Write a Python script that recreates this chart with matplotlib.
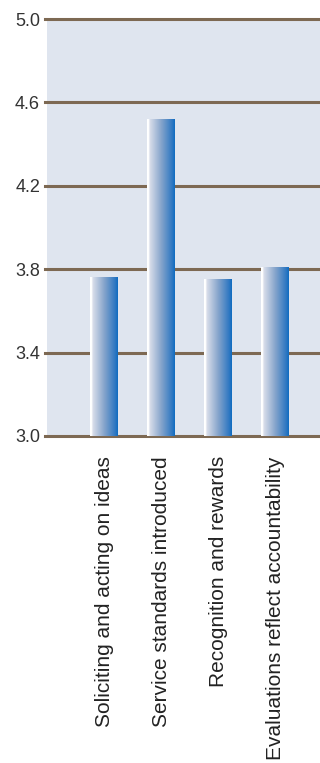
import numpy as np
import matplotlib
matplotlib.use("Agg")
import matplotlib.pyplot as plt
from matplotlib.colors import LinearSegmentedColormap

categories = ["Soliciting and acting on ideas", "Service standards introduced",
              "Recognition and rewards", "Evaluations reflect accountability"]
values = [3.76, 4.52, 3.75, 3.81]
yticks = [3.0, 3.4, 3.8, 4.2, 4.6, 5.0]
ytick_labels = ["3.0", "3.4", "3.8", "4.2", "4.6", "5.0"]

plt.rcParams['font.family'] = ['Liberation Sans', 'DejaVu Sans']

fig = plt.figure(figsize=(3.2, 7.63), dpi=100)
ax = fig.add_axes([47/320, 327/763, 273/320, 417/763])
ax.set_facecolor('#DFE5EF')

x = np.arange(len(categories))
bars = ax.bar(x, [v - 3.0 for v in values], bottom=3.0, width=0.49,
              color='none', edgecolor='none', zorder=3)

cmap = LinearSegmentedColormap.from_list('g', [
    (0.0, '#FFFFFF'), (0.06, '#FFFFFF'), (0.1, '#D9DEEA'),
    (0.5, '#88A6CC'), (0.9, '#2F78C2'), (1.0, '#0E6BC0')])
grad = np.linspace(0, 1, 256).reshape(1, -1)
for r in bars:
    ax.imshow(grad, cmap=cmap, aspect='auto', zorder=3,
              extent=[r.get_x(), r.get_x() + r.get_width(),
                      r.get_y(), r.get_y() + r.get_height()])

for yv in yticks:
    ax.axhline(yv, xmin=-2/273, xmax=1.0, color='#7D6953', lw=2.2, zorder=2,
               clip_on=False)

ax.set_xlim(-1.0, 3.789)
ax.set_ylim(3.0, 5.0)
ax.set_yticks(yticks)
ax.set_yticklabels(ytick_labels, fontsize=13, color='#333333')
ax.set_xticks(x)
ax.set_xticklabels(categories, rotation=90, fontsize=15, color='#222222',
                   va='top', ha='center')
ax.tick_params(axis='y', length=0, pad=5)
ax.tick_params(axis='x', length=0, pad=14.5)
for s in ax.spines.values():
    s.set_visible(False)

fig.savefig('out.png', dpi=100)
